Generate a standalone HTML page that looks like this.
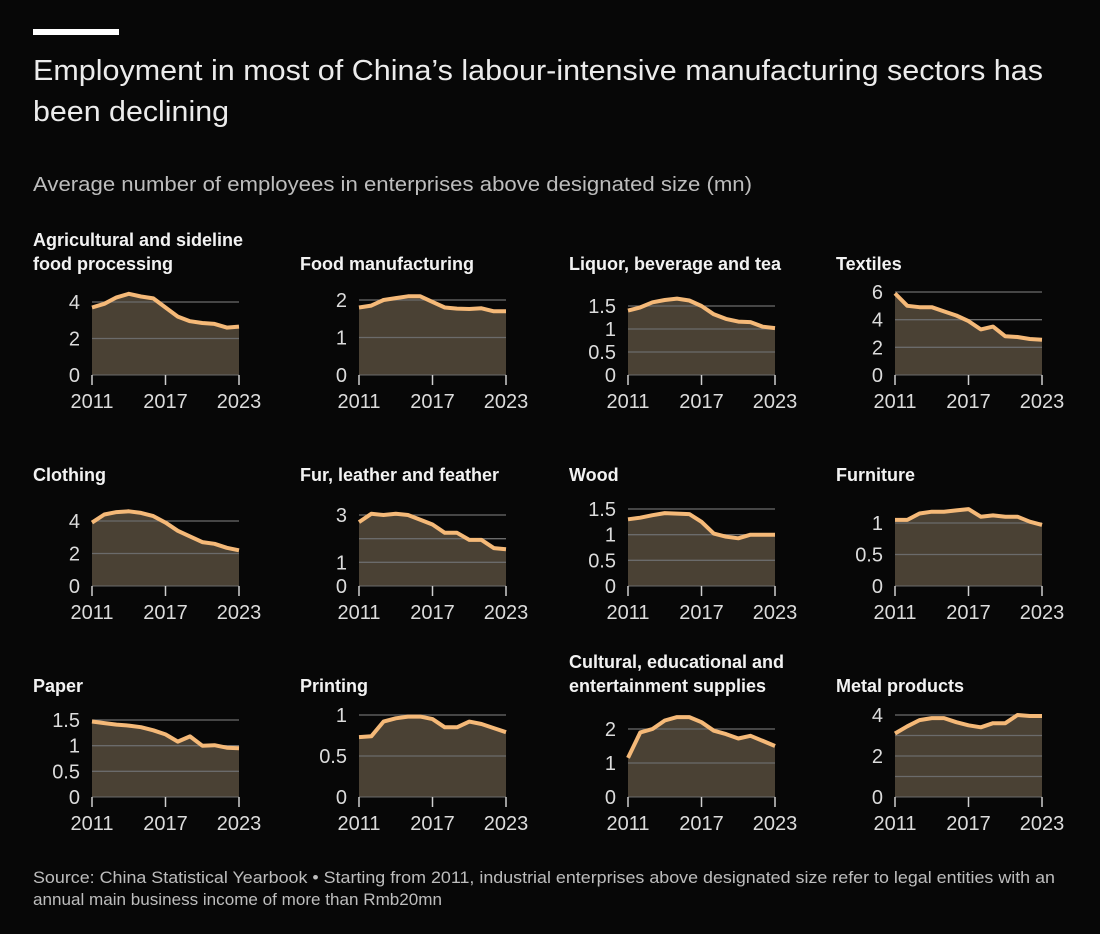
<!DOCTYPE html>
<html><head><meta charset="utf-8">
<style>
html,body{margin:0;padding:0;background:#070707;}
svg{display:block;font-family:"Liberation Sans",sans-serif;}
</style></head>
<body>
<svg id="chart" width="1100" height="934" viewBox="0 0 1100 934">
<rect x="0" y="0" width="1100" height="934" fill="#070707"/>
<rect x="33" y="29" width="86" height="6" fill="#ffffff"/>
<text x="33" y="80" font-size="29" fill="#ececec" textLength="1010" lengthAdjust="spacingAndGlyphs">Employment in most of China’s labour-intensive manufacturing sectors has</text>
<text x="33" y="121" font-size="29" fill="#ececec" textLength="196" lengthAdjust="spacingAndGlyphs">been declining</text>
<text x="33" y="191" font-size="20" fill="#bdbdbd" textLength="719" lengthAdjust="spacingAndGlyphs">Average number of employees in enterprises above designated size (mn)</text>
<text x="33" y="883" font-size="16.5" fill="#bdbdbd" textLength="1022" lengthAdjust="spacingAndGlyphs">Source: China Statistical Yearbook • Starting from 2011, industrial enterprises above designated size refer to legal entities with an</text>
<text x="33" y="905" font-size="16.5" fill="#bdbdbd" textLength="409" lengthAdjust="spacingAndGlyphs">annual main business income of more than Rmb20mn</text>
<g id="panels"></g>
</svg>
<script>
const years = [2011,2012,2013,2014,2015,2016,2017,2018,2019,2020,2021,2022,2023];
const xTickYears = [2011,2017,2023];
const titles = [
 ["Agricultural and sideline","food processing"],["Food manufacturing"],["Liquor, beverage and tea"],["Textiles"],
 ["Clothing"],["Fur, leather and feather"],["Wood"],["Furniture"],
 ["Paper"],["Printing"],["Cultural, educational and","entertainment supplies"],["Metal products"]
];
const agri = [3.7,3.9,4.25,4.45,4.3,4.2,3.7,3.2,2.95,2.85,2.8,2.6,2.65];
const food = [1.8,1.85,2.0,2.05,2.1,2.1,1.95,1.8,1.77,1.76,1.78,1.7,1.7];
const liquor = [1.4,1.47,1.58,1.63,1.66,1.62,1.5,1.32,1.22,1.16,1.15,1.05,1.02];
const textiles = [5.9,5.0,4.9,4.9,4.6,4.3,3.9,3.3,3.5,2.8,2.75,2.6,2.55];
const clothing = [3.9,4.4,4.55,4.6,4.5,4.3,3.9,3.4,3.05,2.7,2.6,2.35,2.2];
const fur = [2.7,3.05,3.0,3.05,3.0,2.8,2.6,2.25,2.25,1.95,1.95,1.6,1.55];
const wood = [1.3,1.33,1.38,1.42,1.41,1.40,1.25,1.02,0.96,0.93,1.0,1.0,1.0];
const furniture = [1.05,1.05,1.15,1.18,1.18,1.2,1.22,1.1,1.12,1.1,1.1,1.02,0.97];
const paper = [1.47,1.44,1.41,1.39,1.36,1.3,1.22,1.08,1.18,1.0,1.01,0.96,0.95];
const printing = [0.73,0.74,0.92,0.96,0.98,0.98,0.95,0.85,0.85,0.92,0.89,0.84,0.79];
const cultural = [1.15,1.9,2.0,2.25,2.35,2.35,2.2,1.95,1.85,1.72,1.8,1.65,1.5];
const metal = [3.1,3.45,3.75,3.85,3.85,3.65,3.5,3.4,3.6,3.6,4.0,3.95,3.95];
const seriesList = [agri,food,liquor,textiles,clothing,fur,wood,furniture,paper,printing,cultural,metal];
const tickLabels = [["0","2","4"],["0","1","2"],["0","0.5","1","1.5"],["0","2","4","6"],
 ["0","2","4"],["0","1","3"],["0","0.5","1","1.5"],["0","0.5","1"],
 ["0","0.5","1","1.5"],["0","0.5","1"],["0","1","2"],["0","2","4"]];
const gridVals = [[2,4],[1,2],[0.5,1,1.5],[2,4,6],[2,4],[1,2,3],[0.5,1,1.5],[0.5,1],[0.5,1,1.5],[0.5,1],[1,2],[1,2,3,4]];
const yMax = [4,2,1.5,6,4,3,1.5,1,1.5,1,2,4];
const colX = [92,359,628,895], plotW = 147;
const rowBase = [375,586,797];
const topPx = [73,75,69,83, 65,71,77,63, 77,82,68,82];
const NS = "http://www.w3.org/2000/svg";
const root = document.getElementById('panels');
function mk(tag, attrs, parent){const e=document.createElementNS(NS,tag);for(const k in attrs)e.setAttribute(k,attrs[k]);parent.appendChild(e);return e;}
seriesList.forEach((vals,i)=>{
  const c=i%4, r=Math.floor(i/4);
  const x0=colX[c], base=rowBase[r];
  const sx=y=>x0+(y-years[0])/(years[years.length-1]-years[0])*plotW;
  const sy=v=>base-v/yMax[i]*topPx[i];
  const g=mk('g',{},root);
  
  
  const tl=titles[i];
  tl.forEach((t,k)=>{
    const tt=mk('text',{x:x0-59,y:base-105-(tl.length-1-k)*24,'font-size':18,'font-weight':'bold',fill:'#f2f2f2'},g);
    tt.textContent=t;
    
    
  });
  let d='M'+sx(years[0])+','+base;
  vals.forEach((v,k)=>{d+=' L'+sx(years[k]).toFixed(1)+','+sy(v).toFixed(1);});
  d+=' L'+sx(years[years.length-1])+','+base+' Z';
  const area=mk('path',{d:d,fill:'#4a4134'},g);
  
  
  gridVals[i].forEach(v=>{
    const gl=mk('line',{x1:x0,x2:x0+plotW,y1:sy(v),y2:sy(v),stroke:'#6b6b6b','stroke-width':1.3},g);
    
    
  });
  const pts=vals.map((v,k)=>sx(years[k]).toFixed(1)+','+sy(v).toFixed(1)).join(' ');
  const ln=mk('polyline',{points:pts,fill:'none',stroke:'#f5b978','stroke-width':4,'stroke-linejoin':'round'},g);
  
  
  const bl=mk('line',{x1:x0,x2:x0+plotW,y1:base,y2:base,stroke:'#6b6b6b','stroke-width':1},g);
  
  
  xTickYears.forEach(y=>{
    const tk=mk('line',{x1:sx(y),x2:sx(y),y1:base,y2:base+10,stroke:'#cfcfcf','stroke-width':1.5},g);
    
    
    const lb=mk('text',{x:sx(y),y:base+33,'font-size':20,fill:'#dcdcdc','text-anchor':'middle'},g);
    lb.textContent=String(y);
    
    
  });
  tickLabels[i].forEach(t=>{
    const lb=mk('text',{x:x0-12,y:sy(parseFloat(t))+7,'font-size':20,fill:'#dcdcdc','text-anchor':'end'},g);
    lb.textContent=t;
    
    
  });
});
</script>
</body></html>
